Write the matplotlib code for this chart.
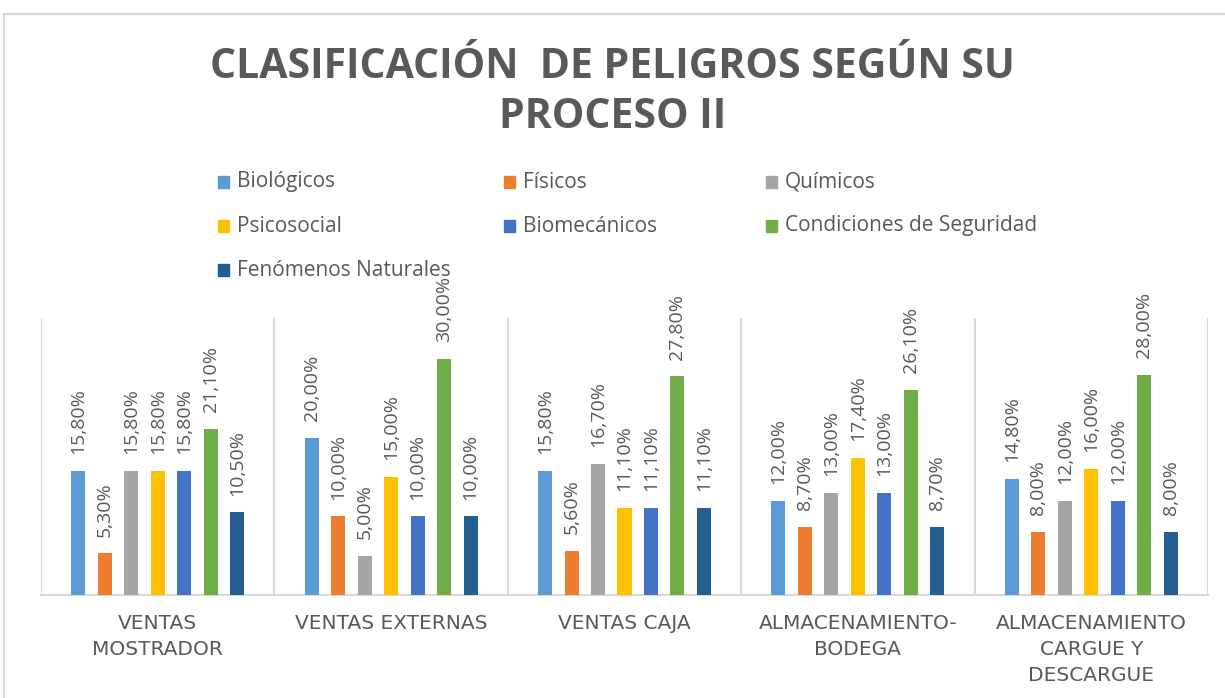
import matplotlib
matplotlib.use("Agg")
import matplotlib.pyplot as plt
from matplotlib.patches import Rectangle
from matplotlib.lines import Line2D
import numpy as np

categories = ["VENTAS\nMOSTRADOR", "VENTAS EXTERNAS", "VENTAS CAJA",
              "ALMACENAMIENTO-\nBODEGA", "ALMACENAMIENTO\nCARGUE Y\nDESCARGUE"]
series = ["Biológicos", "Físicos", "Químicos", "Psicosocial", "Biomecánicos",
          "Condiciones de Seguridad", "Fenómenos Naturales"]
biologicos = [15.8, 20.0, 15.8, 12.0, 14.8]
fisicos = [5.3, 10.0, 5.6, 8.7, 8.0]
quimicos = [15.8, 5.0, 16.7, 13.0, 12.0]
psicosocial = [15.8, 15.0, 11.1, 17.4, 16.0]
biomecanicos = [15.8, 10.0, 11.1, 13.0, 12.0]
seguridad = [21.1, 30.0, 27.8, 26.1, 28.0]
naturales = [10.5, 10.0, 11.1, 8.7, 8.0]
values = [biologicos, fisicos, quimicos, psicosocial, biomecanicos, seguridad, naturales]
colors = ["#5B9BD5", "#ED7D31", "#A5A5A5", "#FFC000", "#4472C4", "#70AD47", "#255E91"]

W, H = 1225, 698
fig = plt.figure(figsize=(W / 100, H / 100), dpi=100)
fig.patch.set_facecolor("white")

gray = "#595959"
font = ["Open Sans", "DejaVu Sans"]

# chart border (top & left visible)
fig.add_artist(Line2D([4 / W, 1.0], [1 - 14 / H, 1 - 14 / H], color="#d9d9d9", lw=1.5))
fig.add_artist(Line2D([4 / W, 4 / W], [0, 1 - 14 / H], color="#d9d9d9", lw=1.5))

# title
fig.text(0.5, 1 - 67 / H, "CLASIFICACIÓN  DE PELIGROS SEGÚN SU", ha="center", va="center",
         fontsize=29.5, fontweight="bold", color=gray, family=font)
fig.text(0.5, 1 - 118 / H, "PROCESO II", ha="center", va="center",
         fontsize=29.5, fontweight="bold", color=gray, family=font)

# legend (manual, 3 equal columns)
col_x = [218, 504, 766]
row_y = [182, 226, 270]
for i, name in enumerate(series):
    cx = col_x[i % 3]
    cy = row_y[i // 3]
    fig.add_artist(Rectangle((cx / W, 1 - (cy + 6) / H), 11 / W, 12 / H,
                             transform=fig.transFigure, color=colors[i]))
    fig.text((cx + 19) / W, 1 - cy / H, name, ha="left", va="center",
             fontsize=15, color=gray, family=font)

# axes
left, right, bottom, top = 41, 1208, 595, 318
ax = fig.add_axes([left / W, 1 - bottom / H, (right - left) / W, (bottom - top) / H])
n = len(categories)
x = np.arange(n)
step = 0.1135
bw = 0.06
for i, (vals, c) in enumerate(zip(values, colors)):
    bars = ax.bar(x + (i - 3) * step, vals, width=bw, color=c, zorder=3)
    ax.bar_label(bars, labels=[f"{v:.2f}%".replace(".", ",") for v in vals],
                 rotation=90, padding=12, fontsize=14, color=gray, family=font)

ax.set_xlim(-0.5, n - 0.5)
ax.set_ylim(0, 35.2)
ax.set_yticks([])
ax.set_xticks(x)
ax.set_xticklabels(categories, fontsize=14.5, color=gray, family=["DejaVu Sans"],
                   linespacing=1.45)
ax.tick_params(axis="x", length=0, pad=14)
for s in ["top", "right", "left"]:
    ax.spines[s].set_visible(False)
ax.spines["bottom"].set_color("#d9d9d9")
ax.spines["bottom"].set_linewidth(1.5)
for b in np.arange(-0.5, n, 1.0):
    ax.axvline(b, color="#d9d9d9", lw=1.5, zorder=1)

fig.savefig("out.png", dpi=100)
